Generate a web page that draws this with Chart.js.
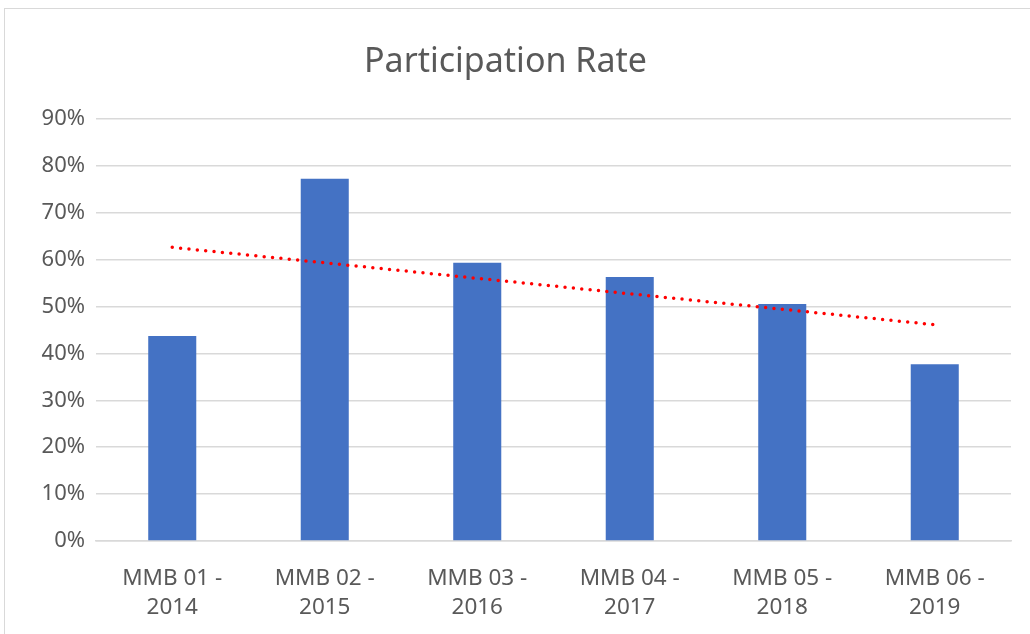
<!DOCTYPE html>
<html>
<head>
<meta charset="utf-8">
<script src="https://cdn.jsdelivr.net/npm/chart.js@4"></script>
<style>
  html, body { margin: 0; padding: 0; background: #fff; }
  #frame { position: absolute; left: 4px; top: 8px; width: 1040px; height: 640px; border: 1px solid #d9d9d9; box-sizing: border-box; }
  #wrap { position: absolute; left: 0; top: 0; width: 1030px; height: 634px; }
</style>
</head>
<body>
<div id="frame"></div>
<div id="wrap"><canvas id="chart"></canvas></div>
<script>
const labels = [
  ['MMB 01 -', '2014'],
  ['MMB 02 -', '2015'],
  ['MMB 03 -', '2016'],
  ['MMB 04 -', '2017'],
  ['MMB 05 -', '2018'],
  ['MMB 06 -', '2019']
];
const rates = [0.437, 0.772, 0.593, 0.563, 0.505, 0.377];
// trend line
const trend = [0.626, 0.593, 0.560, 0.527, 0.494, 0.461];

const grey = '#595959';
const font = '"Noto Sans", "Open Sans", sans-serif';

const ctx = document.getElementById('chart');
new Chart(ctx, {
  type: 'bar',
  data: {
    labels: labels,
    datasets: [
      {
        type: 'line',
        label: 'Trend',
        data: trend,
        borderColor: '#ff0000',
        borderWidth: 3.5,
        borderDash: [0, 8.4],
        borderCapStyle: 'round',
        pointRadius: 0,
        fill: false,
        tension: 0,
        order: 0
      },
      {
        label: 'Participation Rate',
        data: rates,
        backgroundColor: '#4472c4',
        barPercentage: 0.315,
        categoryPercentage: 1,
        order: 1
      }
    ]
  },
  options: {
    responsive: true,
    maintainAspectRatio: false,
    animation: false,
    layout: { padding: { left: 0, right: 19, top: 0, bottom: 0 } },
    plugins: {
      legend: { display: false },
      tooltip: { enabled: false },
      title: {
        display: true,
        text: 'Participation Rate',
        color: grey,
        font: { family: font, size: 34, weight: 'normal', lineHeight: 1.2 },
        padding: { top: 42, bottom: 36 }
      }
    },
    scales: {
      x: {
        grid: { display: false, drawTicks: false },
        border: { display: true, color: '#d9d9d9', width: 1.5 },
        ticks: {
          color: grey,
          font: { family: font, size: 22.5, lineHeight: 1.28 },
          padding: 23,
          maxRotation: 0,
          autoSkip: false
        },
        afterFit: s => { s.height = 93; }
      },
      y: {
        min: 0,
        max: 0.9,
        grid: { color: '#d9d9d9', lineWidth: 1.5, drawTicks: false },
        border: { display: false },
        ticks: {
          stepSize: 0.1,
          color: grey,
          font: { family: font, size: 22 },
          padding: 11,
          callback: v => Math.round(v * 100) + '%'
        },
        afterFit: s => { s.width = 96; }
      }
    }
  }
});
</script>
</body>
</html>
